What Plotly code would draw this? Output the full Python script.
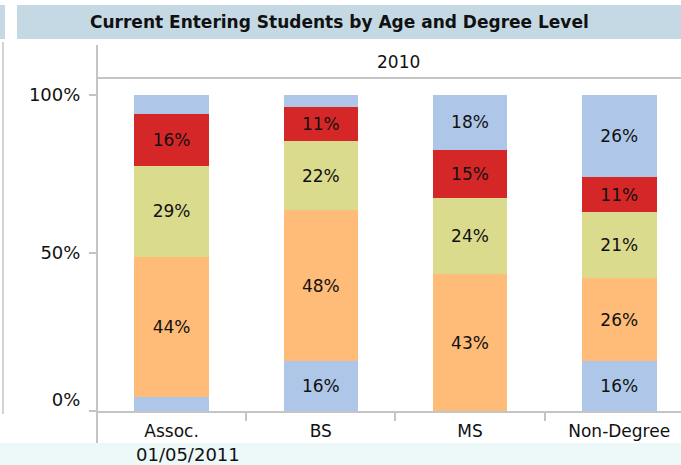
import plotly.graph_objects as go

# ---------------- data ----------------
categories = ["Assoc.", "BS", "MS", "Non-Degree"]
series_names = ["Age group 1", "Age group 2", "Age group 3", "Age group 4", "Age group 5"]
age_group_1 = [4.3, 15.8, 0.0, 15.7]
age_group_2 = [44.4, 47.6, 43.2, 26.2]
age_group_3 = [28.8, 22.0, 24.0, 21.0]
age_group_4 = [16.4, 10.8, 15.2, 10.9]
age_group_5 = [6.1, 3.8, 17.6, 26.2]
series_values = [age_group_1, age_group_2, age_group_3, age_group_4, age_group_5]
series_colors = ["#aec7e8", "#ffbb78", "#dbdb8d", "#d62728", "#aec7e8"]
y_tick_vals = [0, 50, 100]
y_tick_text = ["0%<br>&nbsp;", "50%", "100%"]
title_text = "Current Entering Students by Age and Degree Level"
header_text = "2010"
date_text = "01/05/2011"

# ---------------- layout geometry (pixels) ----------------
W, H = 681, 465
PL, PR, PT, PB = 97, 681, 78, 411  # plot area edges in px


def px(X):
    return (X - PL) / (PR - PL)


def py(Y):
    return (PB - Y) / (PB - PT)


FONT = "DejaVu Sans"
GRAY = "#c4c4c4"

fig = go.Figure()
for name, vals, col in zip(series_names, series_values, series_colors):
    labels = [f"{round(v)}%" if v >= 9.5 else "" for v in vals]
    fig.add_trace(go.Bar(
        x=categories, y=vals, name=name,
        marker=dict(color=col, line=dict(width=0)),
        text=labels, texttemplate="%{text}",
        textposition="inside", insidetextanchor="middle", textangle=0,
        constraintext="none",
        insidetextfont=dict(family=FONT, size=17, color="#111111"),
        width=0.5, showlegend=False, hoverinfo="skip",
    ))

shapes = [
    # bottom light band
    dict(type="rect", xref="paper", yref="paper", x0=px(0), x1=px(681),
         y0=py(465), y1=py(443), fillcolor="#edf8f8", line=dict(width=0), layer="below"),
    # title band
    dict(type="rect", xref="paper", yref="paper", x0=px(17), x1=px(681),
         y0=py(39), y1=py(5), fillcolor="#c5d9e5", line=dict(width=0), layer="below"),
    dict(type="rect", xref="paper", yref="paper", x0=px(0), x1=px(5),
         y0=py(39), y1=py(5), fillcolor="#c5d9e5", line=dict(width=0), layer="below"),
    # left frame line
    dict(type="line", xref="paper", yref="paper", x0=px(3), x1=px(3),
         y0=py(42), y1=py(414), line=dict(color=GRAY, width=1.5)),
    # y axis line extended
    dict(type="line", xref="paper", yref="paper", x0=px(97), x1=px(97),
         y0=py(45), y1=py(443), line=dict(color=GRAY, width=2)),
    # header separator
    dict(type="line", xref="paper", yref="paper", x0=px(97), x1=px(681),
         y0=py(78), y1=py(78), line=dict(color=GRAY, width=2)),
]

annotations = [
    dict(text=f"<b>{title_text}</b>", xref="paper", yref="paper", x=px(339), y=py(22),
         showarrow=False, xanchor="center", yanchor="middle",
         font=dict(family=FONT, size=17, color="#111111")),
    dict(text=header_text, xref="paper", yref="paper", x=px(398), y=py(62),
         showarrow=False, xanchor="center", yanchor="middle",
         font=dict(family=FONT, size=17, color="#111111")),
    dict(text=date_text, xref="paper", yref="paper", x=px(188), y=py(455),
         showarrow=False, xanchor="center", yanchor="middle",
         font=dict(family=FONT, size=18, color="#111111")),
]

fig.update_layout(
    width=W, height=H,
    margin=dict(l=PL, r=W - PR, t=PT, b=H - PB, pad=0),
    barmode="stack",
    paper_bgcolor="white", plot_bgcolor="white",
    shapes=shapes, annotations=annotations,
    uniformtext=dict(mode=False),
    xaxis=dict(
        type="category", range=[-0.5, -0.5 + (PR - PL) / 149.2],
        showline=True, linecolor=GRAY, linewidth=2,
        ticks="outside", tickson="boundaries", ticklen=8, tickcolor=GRAY, tickwidth=2,
        ticklabelstandoff=4,
        showgrid=False, zeroline=False,
        tickfont=dict(family=FONT, size=17, color="#111111"),
    ),
    yaxis=dict(
        range=[0, (PB - PT) / 3.165],
        tickvals=y_tick_vals, ticktext=y_tick_text,
        showline=False, showgrid=False, zeroline=False,
        ticks="outside", ticklen=7, tickcolor=GRAY, tickwidth=2,
        ticklabelstandoff=5,
        tickfont=dict(family=FONT, size=18, color="#111111"),
    ),
)

fig.write_html(
    "out.html",
    config={"displayModeBar": False},
    post_script="document.body.style.margin='0';document.body.style.overflow='hidden';",
)
